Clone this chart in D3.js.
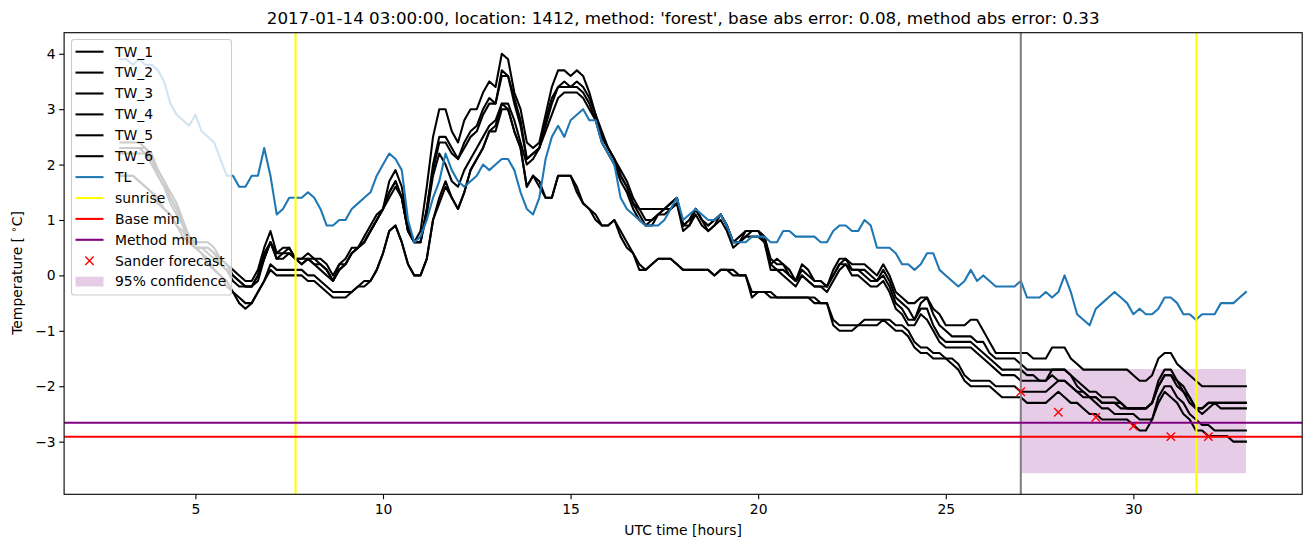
<!DOCTYPE html>
<html><head><meta charset="utf-8">
<script src="https://cdn.jsdelivr.net/npm/d3@7/dist/d3.min.js"></script>
<style>
body{margin:0;background:#fff;}
svg{display:block;font-family:"DejaVu Sans",sans-serif;}
</style>
</head><body>
<svg id="chart" width="1313" height="547"></svg>
<script>
// ---- data ----
const startHour = 3;          // first observation, hours UTC
const stepHours = 1 / 6;      // 10-minute observations

const TL = [
 3.9,3.9,3.8,3.9,3.8,3.8,3.7,3.5,3.1,2.9,
 2.8,2.7,2.9,2.6,2.5,2.4,2.1,1.8,1.8,1.6,
 1.6,1.8,1.8,2.3,1.8,1.1,1.2,1.4,1.4,1.4,
 1.5,1.4,1.2,0.9,0.9,1.0,1.0,1.2,1.3,1.4,
 1.5,1.8,2.0,2.2,2.1,1.9,1.0,0.6,0.7,1.0,
 1.4,1.7,2.2,1.9,1.7,1.6,1.7,1.8,2.0,1.9,
 2.0,2.1,2.1,1.9,1.5,1.2,1.1,1.4,2.1,2.5,
 2.7,2.5,2.8,2.9,3.0,2.8,2.8,2.4,2.2,2.0,
 1.4,1.2,1.1,1.0,0.9,0.9,0.9,1.0,1.2,1.4,
 1.0,1.1,1.2,1.1,1.0,1.0,1.1,0.9,0.6,0.6,
 0.6,0.7,0.7,0.7,0.6,0.6,0.8,0.8,0.7,0.7,
 0.7,0.7,0.6,0.6,0.8,0.9,0.9,0.8,0.8,1.0,
 0.9,0.5,0.5,0.5,0.4,0.2,0.2,0.1,0.2,0.4,
 0.4,0.1,0.0,-0.1,-0.2,-0.1,0.1,-0.1,0.0,-0.1,
 -0.2,-0.2,-0.2,-0.2,-0.1,-0.4,-0.4,-0.4,-0.3,-0.4,
 -0.3,0.0,-0.3,-0.7,-0.8,-0.9,-0.6,-0.5,-0.4,-0.3,
 -0.4,-0.5,-0.7,-0.6,-0.7,-0.7,-0.6,-0.4,-0.4,-0.5,
 -0.7,-0.7,-0.8,-0.7,-0.7,-0.7,-0.5,-0.5,-0.5,-0.4,-0.3
];

const TW_1 = [
 2.4,2.4,2.4,2.4,2.3,2.2,1.9,1.7,1.5,1.3,
 1.0,0.7,0.6,0.6,0.6,0.5,0.3,0.2,0.1,0.0,
 -0.1,-0.1,0.1,0.5,0.8,0.4,0.5,0.5,0.3,0.3,
 0.4,0.3,0.3,0.2,0.0,0.2,0.3,0.5,0.5,0.7,
 0.9,1.1,1.2,1.7,1.9,1.6,0.9,0.6,0.8,1.6,
 2.5,3.0,3.0,2.6,2.4,2.8,3.0,3.0,3.3,3.5,
 3.4,4.0,3.9,3.3,3.0,2.4,2.3,2.4,2.9,3.4,
 3.7,3.7,3.6,3.7,3.6,3.3,2.9,2.6,2.3,2.1,
 1.9,1.7,1.4,1.2,1.2,1.2,1.2,1.2,1.3,1.4,
 0.9,1.0,1.2,1.0,0.9,1.0,1.1,0.9,0.6,0.6,
 0.8,0.8,0.8,0.6,0.2,0.3,0.2,0.1,-0.1,0.2,
 0.1,-0.1,-0.1,-0.2,0.1,0.3,0.3,0.2,0.2,0.2,
 0.1,0.0,0.2,0.0,-0.3,-0.4,-0.5,-0.5,-0.4,-0.4,
 -0.6,-0.7,-0.9,-0.9,-0.9,-0.9,-0.8,-0.8,-1.0,-1.2,
 -1.4,-1.4,-1.4,-1.4,-1.4,-1.4,-1.5,-1.5,-1.5,-1.3,
 -1.3,-1.3,-1.5,-1.6,-1.7,-1.7,-1.7,-1.7,-1.7,-1.7,
 -1.7,-1.7,-1.8,-1.9,-1.9,-1.8,-1.5,-1.4,-1.4,-1.6,
 -1.7,-1.8,-1.9,-2.0,-2.0,-2.0,-2.0,-2.0,-2.0,-2.0,-2.0
];

const TW_2 = [
 2.3,2.3,2.3,2.3,2.3,2.1,1.9,1.7,1.4,1.2,
 0.9,0.7,0.5,0.5,0.5,0.4,0.3,0.2,0.0,-0.1,
 -0.2,-0.2,0.0,0.4,0.6,0.3,0.4,0.4,0.3,0.2,
 0.3,0.2,0.2,0.1,-0.1,0.1,0.2,0.4,0.5,0.6,
 0.8,1.0,1.2,1.5,1.7,1.4,0.8,0.6,0.6,1.2,
 2.0,2.5,2.5,2.3,2.1,2.4,2.6,2.7,3.0,3.2,
 3.1,3.7,3.6,3.2,2.8,2.1,2.2,2.3,2.8,3.2,
 3.4,3.5,3.4,3.5,3.4,3.2,2.9,2.5,2.3,2.1,
 1.8,1.6,1.3,1.2,1.0,1.0,1.1,1.2,1.3,1.4,
 0.9,1.0,1.2,1.0,0.9,1.0,1.1,0.9,0.6,0.7,
 0.8,0.8,0.8,0.7,0.3,0.2,0.2,0.0,-0.1,0.1,
 0.0,-0.1,-0.1,-0.2,0.0,0.2,0.3,0.1,0.1,0.1,
 0.0,-0.1,0.1,-0.1,-0.4,-0.5,-0.6,-0.8,-0.5,-0.4,
 -0.7,-0.9,-1.0,-1.1,-1.1,-1.1,-1.1,-1.2,-1.2,-1.4,
 -1.5,-1.5,-1.5,-1.5,-1.6,-1.7,-1.7,-1.7,-1.7,-1.7,
 -1.7,-1.7,-1.8,-1.9,-2.0,-2.1,-2.1,-2.2,-2.2,-2.2,
 -2.3,-2.4,-2.4,-2.4,-2.4,-2.3,-1.9,-1.7,-1.7,-1.9,
 -2.0,-2.2,-2.4,-2.4,-2.3,-2.3,-2.3,-2.3,-2.3,-2.3,-2.3
];

const TW_3 = [
 2.3,2.3,2.3,2.3,2.2,2.1,1.8,1.6,1.4,1.2,
 0.9,0.7,0.5,0.5,0.5,0.4,0.2,0.1,0.0,-0.1,
 -0.2,-0.2,0.0,0.3,0.6,0.4,0.4,0.5,0.3,0.3,
 0.3,0.3,0.2,0.1,-0.1,0.2,0.2,0.4,0.5,0.6,
 0.8,1.0,1.2,1.4,1.6,1.4,0.8,0.6,0.6,1.2,
 1.9,2.4,2.4,2.2,2.1,2.3,2.5,2.6,2.9,3.1,
 3.1,3.6,3.6,3.1,2.7,2.1,2.2,2.3,2.7,3.1,
 3.4,3.4,3.4,3.4,3.3,3.1,2.8,2.5,2.3,2.1,
 1.8,1.6,1.3,1.1,0.9,0.9,1.1,1.2,1.2,1.3,
 0.9,0.9,1.2,1.0,0.8,0.9,1.1,0.9,0.6,0.6,
 0.7,0.8,0.8,0.7,0.2,0.1,0.1,0.0,-0.1,0.0,
 -0.1,-0.2,-0.2,-0.2,0.0,0.2,0.2,0.1,0.1,0.0,
 -0.1,-0.1,0.0,-0.2,-0.5,-0.6,-0.8,-0.8,-0.6,-0.6,
 -0.9,-1.1,-1.2,-1.2,-1.2,-1.2,-1.2,-1.3,-1.4,-1.5,
 -1.6,-1.7,-1.7,-1.7,-1.7,-1.8,-1.8,-1.9,-1.9,-1.7,
 -1.7,-1.7,-1.8,-2.0,-2.1,-2.2,-2.2,-2.3,-2.3,-2.3,
 -2.4,-2.4,-2.4,-2.4,-2.4,-2.3,-2.0,-1.8,-1.8,-1.9,
 -2.1,-2.2,-2.4,-2.5,-2.4,-2.3,-2.4,-2.4,-2.4,-2.4,-2.4
];

const TW_4 = [
 2.2,2.2,2.2,2.2,2.2,2.0,1.8,1.6,1.3,1.1,
 0.9,0.6,0.5,0.5,0.4,0.3,0.2,0.1,-0.1,-0.2,
 -0.2,-0.2,-0.1,0.3,0.6,0.3,0.3,0.4,0.3,0.2,
 0.3,0.2,0.1,0.0,-0.1,0.1,0.2,0.4,0.5,0.6,
 0.8,1.0,1.2,1.5,1.7,1.4,0.8,0.6,0.6,1.1,
 1.8,2.2,2.0,1.7,1.6,1.9,2.1,2.3,2.5,2.7,
 2.8,3.1,3.1,2.8,2.4,2.0,2.1,2.3,2.6,2.9,
 3.2,3.3,3.3,3.3,3.2,3.0,2.8,2.4,2.2,2.0,
 1.7,1.5,1.2,1.0,0.9,1.0,1.1,1.1,1.2,1.3,
 0.8,0.9,1.1,0.9,0.8,0.9,1.0,0.8,0.5,0.6,
 0.7,0.7,0.7,0.6,0.1,0.1,0.0,-0.1,-0.2,0.0,
 -0.1,-0.2,-0.2,-0.3,-0.1,0.1,0.2,0.0,0.0,-0.1,
 -0.2,-0.2,-0.1,-0.3,-0.6,-0.7,-0.9,-0.9,-0.7,-0.8,
 -1.0,-1.2,-1.3,-1.3,-1.3,-1.3,-1.3,-1.4,-1.5,-1.6,
 -1.7,-1.8,-1.8,-1.8,-1.9,-1.9,-1.9,-1.9,-1.9,-1.8,
 -1.9,-1.9,-2.0,-2.1,-2.1,-2.2,-2.2,-2.3,-2.3,-2.3,
 -2.3,-2.4,-2.4,-2.4,-2.4,-2.3,-2.0,-1.8,-1.8,-2.0,
 -2.1,-2.3,-2.4,-2.4,-2.3,-2.3,-2.3,-2.3,-2.3,-2.3,-2.3
];

const TW_5 = [
 1.8,1.8,1.8,1.7,1.6,1.5,1.3,1.2,1.1,0.9,
 0.7,0.6,0.5,0.4,0.2,0.1,0.0,-0.2,-0.3,-0.5,
 -0.6,-0.5,-0.3,-0.1,0.1,0.0,0.0,0.0,0.0,0.0,
 -0.1,-0.1,-0.2,-0.3,-0.4,-0.4,-0.4,-0.3,-0.2,-0.2,
 -0.1,0.1,0.4,0.8,0.9,0.6,0.2,0.0,0.0,0.3,
 1.0,1.3,1.6,1.4,1.2,1.5,1.9,2.1,2.3,2.6,
 2.6,3.0,3.0,2.6,2.3,1.6,1.8,1.6,1.4,1.4,
 1.8,1.8,1.8,1.5,1.3,1.2,1.0,0.9,0.9,1.0,
 0.7,0.5,0.4,0.1,0.1,0.2,0.3,0.3,0.3,0.2,
 0.1,0.1,0.1,0.1,0.1,0.0,0.1,0.1,0.0,0.0,
 0.0,-0.4,-0.3,-0.3,-0.4,-0.4,-0.4,-0.4,-0.4,-0.4,
 -0.4,-0.5,-0.5,-0.5,-0.9,-1.0,-1.0,-1.0,-0.9,-0.9,
 -0.9,-0.9,-0.8,-0.9,-1.0,-1.0,-1.1,-1.3,-1.4,-1.4,
 -1.5,-1.5,-1.5,-1.6,-1.7,-1.9,-2.0,-2.0,-2.0,-2.0,
 -2.1,-2.2,-2.2,-2.2,-2.2,-2.3,-2.3,-2.3,-2.3,-2.2,
 -2.1,-2.2,-2.3,-2.3,-2.4,-2.5,-2.5,-2.6,-2.6,-2.6,
 -2.6,-2.6,-2.7,-2.8,-2.8,-2.6,-2.3,-2.1,-2.2,-2.3,
 -2.5,-2.6,-2.8,-2.8,-2.9,-2.9,-2.9,-2.9,-3.0,-3.0,-3.0
];

const TW_6 = [
 1.8,1.8,1.8,1.7,1.6,1.5,1.4,1.2,1.1,0.9,
 0.8,0.6,0.5,0.4,0.3,0.1,0.0,-0.1,-0.3,-0.4,
 -0.5,-0.5,-0.3,-0.1,0.2,0.1,0.1,0.1,0.1,0.1,
 0.0,0.0,-0.1,-0.2,-0.3,-0.3,-0.3,-0.3,-0.2,-0.1,
 -0.1,0.1,0.4,0.8,0.9,0.6,0.2,0.0,0.0,0.3,
 1.0,1.4,1.7,1.4,1.2,1.5,1.9,2.1,2.3,2.6,
 2.7,3.1,3.0,2.6,2.3,1.6,1.8,1.7,1.4,1.4,
 1.8,1.8,1.8,1.6,1.3,1.2,1.1,0.9,0.9,1.0,
 0.8,0.6,0.4,0.2,0.1,0.2,0.3,0.3,0.3,0.2,
 0.1,0.1,0.1,0.1,0.1,0.0,0.1,0.1,0.1,0.0,
 0.0,-0.3,-0.3,-0.3,-0.3,-0.4,-0.4,-0.4,-0.4,-0.4,
 -0.4,-0.4,-0.5,-0.5,-0.8,-0.9,-0.9,-0.9,-0.9,-0.8,
 -0.8,-0.8,-0.8,-0.8,-0.9,-0.9,-1.0,-1.2,-1.3,-1.3,
 -1.4,-1.4,-1.5,-1.5,-1.6,-1.8,-1.9,-1.9,-1.9,-1.9,
 -2.0,-2.0,-2.0,-2.0,-2.1,-2.1,-2.1,-2.1,-2.1,-2.0,
 -1.9,-1.9,-2.0,-2.1,-2.2,-2.2,-2.3,-2.4,-2.4,-2.5,
 -2.5,-2.5,-2.5,-2.6,-2.6,-2.6,-2.2,-2.0,-2.0,-2.2,
 -2.3,-2.5,-2.6,-2.7,-2.7,-2.8,-2.8,-2.8,-2.8,-2.8,-2.8
];

const twNames = ["TW_1","TW_2","TW_3","TW_4","TW_5","TW_6"];
const sunriseHours = [7.67, 31.68];
const nowHour = 27;
const baseMin = -2.91;
const methodMin = -2.66;
const forecastHours = [27, 28, 29, 30, 31, 32];
const forecastValues = [-2.10, -2.47, -2.56, -2.72, -2.91, -2.91];
const confidenceHours = [27, 33];
const confidenceLow = [-3.57, -3.57];
const confidenceHigh = [-1.69, -1.69];
const xTicks = [5, 10, 15, 20, 25, 30];
const yTicks = [-3, -2, -1, 0, 1, 2, 3, 4];
const title = "2017-01-14 03:00:00, location: 1412, method: 'forest', base abs error: 0.08, method abs error: 0.33";

// ---- layout ----
const L = 64.1, R = 1302.2, T = 32.7, B = 494.3;
const svg = d3.select("#chart");
const x = d3.scaleLinear().domain([1.5, 34.5]).range([L, R]);
const y = d3.scaleLinear().domain([-3.95, 4.38]).range([B, T]);
const hours = d3.range(TL.length).map(i => startHour + i * stepHours);
const LW = 2.08;

svg.append("defs").append("clipPath").attr("id","clip")
  .append("rect").attr("x",L).attr("y",T).attr("width",R-L).attr("height",B-T);
const plot = svg.append("g").attr("clip-path","url(#clip)");

// confidence band
const band = d3.area().x(d => x(d[0])).y0(d => y(d[1])).y1(d => y(d[2]));
plot.append("path")
  .datum(confidenceHours.map((h,i) => [h, confidenceLow[i], confidenceHigh[i]]))
  .attr("d", band).attr("fill","purple").attr("fill-opacity",0.2);

const line = d3.line().x((d,i) => x(hours[i])).y(d => y(d));
[TW_1,TW_2,TW_3,TW_4,TW_5,TW_6].forEach(s => {
  plot.append("path").datum(s).attr("d", line)
    .attr("fill","none").attr("stroke","#000").attr("stroke-width",LW)
    .attr("stroke-linejoin","round").attr("stroke-linecap","square");
});
plot.append("path").datum(TL).attr("d", line)
  .attr("fill","none").attr("stroke","#1f77b4").attr("stroke-width",LW)
  .attr("stroke-linejoin","round").attr("stroke-linecap","square");

// vertical lines
sunriseHours.forEach(h => {
  plot.append("line").attr("x1",x(h)).attr("x2",x(h)).attr("y1",T).attr("y2",B)
    .attr("stroke","yellow").attr("stroke-width",LW);
});
plot.append("line").attr("x1",x(nowHour)).attr("x2",x(nowHour)).attr("y1",T).attr("y2",B)
  .attr("stroke","gray").attr("stroke-width",LW);
// horizontal lines
plot.append("line").attr("x1",L).attr("x2",R).attr("y1",y(baseMin)).attr("y2",y(baseMin))
  .attr("stroke","red").attr("stroke-width",LW);
plot.append("line").attr("x1",L).attr("x2",R).attr("y1",y(methodMin)).attr("y2",y(methodMin))
  .attr("stroke","purple").attr("stroke-width",LW);

// forecast markers
const ms = 4.2;
forecastHours.forEach((h,i) => {
  const cx = x(h), cy = y(forecastValues[i]);
  plot.append("path").attr("d",`M${cx-ms},${cy-ms}L${cx+ms},${cy+ms}M${cx-ms},${cy+ms}L${cx+ms},${cy-ms}`)
    .attr("stroke","red").attr("stroke-width",1.4).attr("fill","none");
});

// frame
svg.append("rect").attr("x",L).attr("y",T).attr("width",R-L).attr("height",B-T)
  .attr("fill","none").attr("stroke","#000").attr("stroke-width",1.1);

// axes
const fs = "13.9px";
const xAxis = svg.append("g").attr("transform",`translate(0,${B})`)
  .call(d3.axisBottom(x).tickValues(xTicks).tickSize(4.9).tickPadding(4.5).tickSizeOuter(0));
const yAxis = svg.append("g").attr("transform",`translate(${L},0)`)
  .call(d3.axisLeft(y).tickValues(yTicks).tickSize(4.9).tickPadding(3.5).tickSizeOuter(0));
[xAxis,yAxis].forEach(g => {
  g.select(".domain").remove();
  g.attr("font-family","DejaVu Sans").attr("font-size",fs);
  g.selectAll("line").attr("stroke","#000").attr("stroke-width",1.1);
  g.selectAll("text").attr("fill","#000");
});

// labels
svg.append("text").attr("x",(L+R)/2).attr("y",24).attr("text-anchor","middle")
  .attr("font-size","16.7px").attr("fill","#000").text(title);
svg.append("text").attr("x",(L+R)/2).attr("y",535).attr("text-anchor","middle")
  .attr("font-size",fs).attr("fill","#000").text("UTC time [hours]");
const yl = svg.append("text").attr("transform","translate(22,273) rotate(-90)")
  .attr("text-anchor","middle").attr("font-size",fs).attr("fill","#000");
yl.append("tspan").text("Temperature [ ");
yl.append("tspan").attr("font-size","10px").attr("dy",-5).text("∘");
yl.append("tspan").attr("dy",5).text("C]");

// legend
const lg = svg.append("g");
lg.append("rect").attr("x",71.5).attr("y",39.5).attr("width",160).attr("height",255.5)
  .attr("rx",2.8).attr("fill","#fff").attr("fill-opacity",0.8)
  .attr("stroke","#cccccc").attr("stroke-width",1.1);
const entries = twNames.map(n => ({label:n, type:"line", color:"#000"}))
  .concat([
    {label:"TL", type:"line", color:"#1f77b4"},
    {label:"sunrise", type:"line", color:"yellow"},
    {label:"Base min", type:"line", color:"red"},
    {label:"Method min", type:"line", color:"purple"},
    {label:"Sander forecast", type:"marker", color:"red"},
    {label:"95% confidence", type:"patch", color:"purple"}
  ]);
entries.forEach((e,i) => {
  const cy = 51.7 + i * 20.9;
  if (e.type === "line") {
    lg.append("line").attr("x1",75.5).attr("x2",103.5).attr("y1",cy).attr("y2",cy)
      .attr("stroke",e.color).attr("stroke-width",LW);
  } else if (e.type === "marker") {
    const cx = 89.5;
    lg.append("path").attr("d",`M${cx-ms},${cy-ms}L${cx+ms},${cy+ms}M${cx-ms},${cy+ms}L${cx+ms},${cy-ms}`)
      .attr("stroke",e.color).attr("stroke-width",1.4);
  } else {
    lg.append("rect").attr("x",75.5).attr("y",cy-4.9).attr("width",28).attr("height",9.8)
      .attr("fill",e.color).attr("fill-opacity",0.2);
  }
  lg.append("text").attr("x",115).attr("y",cy).attr("dy","0.35em")
    .attr("font-size",fs).attr("fill","#000").text(e.label);
});
</script>
</body></html>
